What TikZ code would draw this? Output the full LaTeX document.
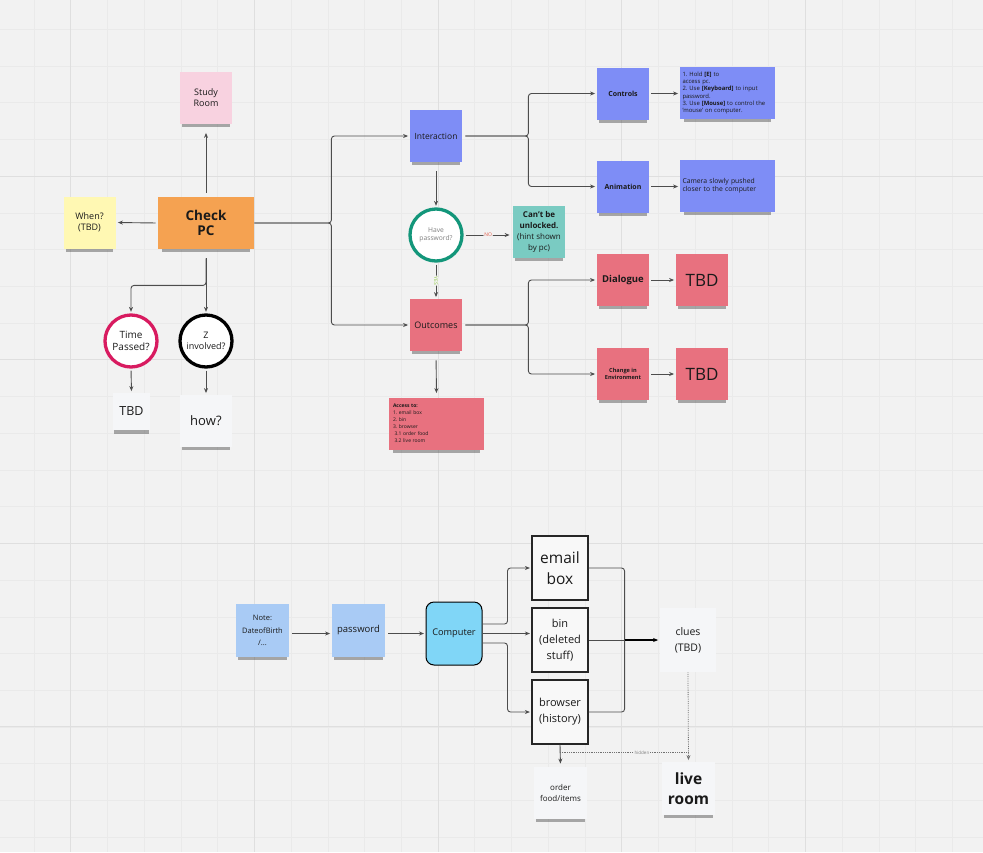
\documentclass[tikz,border=0pt]{standalone}
\usepackage{fontspec}
\setmainfont{Open Sans}
\usetikzlibrary{positioning,shadows,arrows.meta}
\definecolor{bg}{HTML}{F2F2F2}
\definecolor{gridminor}{HTML}{EAEAEA}
\definecolor{gridmajor}{HTML}{DFDFDF}
\definecolor{ink}{HTML}{1A1A1A}
\definecolor{line}{HTML}{4D4D4D}
\definecolor{orangenote}{HTML}{F5A251}
\definecolor{pinknote}{HTML}{F8D2E0}
\definecolor{yellownote}{HTML}{FFF8B3}
\definecolor{bluenote}{HTML}{7E8DF6}
\definecolor{tealnote}{HTML}{7ACBC2}
\definecolor{rednote}{HTML}{E8717F}
\definecolor{lightbluenote}{HTML}{A9CBF5}
\definecolor{whitenote}{HTML}{F5F6F8}
\definecolor{compcyan}{HTML}{80D6F7}
\definecolor{circmag}{HTML}{D81B60}
\definecolor{circgreen}{HTML}{13967A}
\definecolor{nored}{HTML}{E45D4B}
\definecolor{yesgreen}{HTML}{8DC63F}
\frenchspacing

\begin{document}
\begin{tikzpicture}[x=1pt, y=-1pt, thick,
  fs/.style 2 args = {font=\fontsize{#1}{#2}\selectfont},
  flat/.style = {fill=#1, minimum width=52pt, minimum height=52pt, inner sep=2pt, align=center, text=ink},
  sticky/.style = {flat=#1,
    drop shadow={shadow xshift=0pt, shadow yshift=-6pt, shadow scale=.92, opacity=.4, fill=black!80}},
  wide/.style = {minimum width=95pt},
  decision/.style = {circle, draw=#1, line width=3.3pt, fill=white, minimum size=52pt, inner sep=0pt, align=center, text=ink},
  frame/.style = {draw=black!85, line width=1.2pt, fill=white!50!bg, minimum width=56pt, minimum height=64pt, align=center, text=ink},
  link/.style = {draw=line, line width=.9pt, rounded corners=3pt, -{Stealth[length=5pt,width=4pt]}, shorten >=1.5pt},
  plain/.style = {draw=line, line width=.9pt, rounded corners=3pt},
  dots/.style = {draw=line!80, line width=.8pt, densely dotted},
  tag/.style = {fill=bg, inner sep=1pt, fs={5}{6}}]

\useasboundingbox (0,0) rectangle (983,852);
\fill[bg] (0,0) rectangle (983,852);
\foreach \k in {0,...,25} \draw[gridminor, line width=.5pt] ({33.97+36.73*\k},0) -- ++(0,852);
\foreach \k in {0,...,22} \draw[gridminor, line width=.5pt] (0,{29.1+36.73*\k}) -- ++(983,0);
\foreach \k in {0,...,4} \draw[gridmajor, line width=1pt] ({70.7+183.65*\k},0) -- ++(0,852);
\foreach \k in {0,...,3} \draw[gridmajor, line width=1pt] (0,{176+183.65*\k}) -- ++(983,0);

\node[sticky=orangenote, minimum width=96pt, fs={13.5}{14.5}] (1) at (206,223) {\textbf{Check}\\\textbf{PC}};
\node[sticky=pinknote, fs={9}{10.5}] (2) at (206,97.5) {Study\\Room};
\node[sticky=yellownote, fs={9}{10.5}] (3) at (89.5,222.5) {When?\\(TBD)};
\node[decision=circmag, fs={10}{12}] (4) at (131,341) {Time\\Passed?};
\node[decision=black, fs={9}{11.5}] (5) at (206,341) {Z\\involved?};
\node[sticky=whitenote, minimum width=37pt, minimum height=37pt, fs={12.5}{14}] (6) at (131.5,411.5) {TBD};
\node[sticky=whitenote, fs={13}{15}] (7) at (206,421) {how?};

\node[sticky=bluenote, fs={8.5}{10}] (8) at (436,136) {Interaction};
\node[decision=circgreen, fs={6.7}{8.5}, text=gray] (9) at (436,235) {Have\\password?};
\node[sticky=tealnote, fs={8}{11}] (10) at (539,232) {\textbf{Can't be}\\\textbf{unlocked.}\\(hint shown\\by pc)};
\node[sticky=rednote, fs={9}{10}] (11) at (436,325) {Outcomes};
\node[sticky=rednote, wide, text width=87pt, align=left, fs={5}{7}] (12) at (436.5,423.5) {\textbf{Access to:}\\1. email box\\2. bin\\3. browser\\\hspace{1.5pt}3.1 order food\\\hspace{1.5pt}3.2 live room};

\node[sticky=bluenote, fs={7}{8}] (13) at (623,93.5) {\textbf{Controls}};
\node[sticky=bluenote, wide, text width=90pt, align=left, fs={5.9}{7.2}] (14) at (727.5,93) {1. Hold \textbf{[E]} to\\access pc.\\2. Use \textbf{[Keyboard]} to input\\password.\\3. Use \textbf{[Mouse]} to control the\\'mouse' on computer.};
\node[sticky=bluenote, fs={7}{8}] (15) at (623,186.5) {\textbf{Animation}};
\node[sticky=bluenote, wide, text width=90pt, align=left, fs={6.8}{8}] (16) at (727.5,186) {Camera slowly pushed\\closer to the computer};
\node[sticky=rednote, fs={9.5}{11}] (17) at (623,280) {\textbf{Dialogue}};
\node[sticky=rednote, fs={17}{20}] (18) at (702,280) {TBD};
\node[sticky=rednote, fs={5.6}{7.7}] (19) at (623,374) {\textbf{Change in}\\\textbf{Environment}};
\node[sticky=rednote, fs={17}{20}] (20) at (702,374) {TBD};

\node[sticky=lightbluenote, minimum width=53pt, minimum height=53pt, fs={7.5}{12.5}] (21) at (262.5,630.5) {Note:\\DateofBirth\\/...};
\node[sticky=lightbluenote, minimum width=53pt, minimum height=53pt, fs={9.5}{11}] (22) at (358.5,630.5) {password};
\node[draw=black, line width=1pt, rounded corners=8pt, fill=compcyan, minimum width=56pt, minimum height=63pt, text=ink, fs={9.2}{11}] (23) at (454,633.5) {Computer};
\node[frame, fs={15.5}{21}] (24) at (560,568) {email\\box};
\node[frame, fs={11}{16}] (25) at (560,640) {bin\\(deleted\\stuff)};
\node[frame, fs={11}{16}] (26) at (560,712) {browser\\(history)};
\node[flat=whitenote, minimum width=56pt, minimum height=64pt, fs={10.5}{16}] (27) at (688,640) {clues\\(TBD)};
\node[sticky=whitenote, minimum width=53pt, fs={8}{11}] (28) at (560.5,793) {order\\food/items};
\node[sticky=whitenote, minimum width=53pt, minimum height=53pt, fs={15.5}{20}] (29) at (688.5,788.5) {\textbf{live}\\\textbf{room}};

\draw[link, shorten <=4pt, shorten >=9pt] (1.north) -- (2.south);
\draw[link, shorten <=2pt, shorten >=2pt] (1.west) -- (3.east);
\draw[link, shorten <=9pt] (1.south) -- ++(0,36) -| (4.north);
\draw[link, shorten <=9pt] (1.south) -- (5.north);
\draw[link, shorten <=2pt] (4.south) -- (6.north);
\draw[link, shorten <=2pt] (5.south) -- (7.north);
\draw[link] (1.east) -- ++(77,0) |- (8.west);
\draw[link] (1.east) -- ++(77,0) |- (11.west);
\draw[link, shorten <=9pt] (8.south) -- (9.north);
\draw[link, shorten <=2pt, shorten >=3pt] (9.east) -- node[tag, text=nored] {NO} (9.east -| 10.west);
\draw[link, shorten <=2pt] (9.south) -- node[tag, text=yesgreen, rotate=-90] {YES} (11.north);
\draw[link, shorten <=9pt, shorten >=4pt] (11.south) -- (12.north);
\draw[link, shorten <=3pt] (8.east) -- ++(66,0) |- (13.west);
\draw[link, shorten <=3pt] (8.east) -- ++(66,0) |- (15.west);
\draw[link, shorten <=2pt] (13.east) -- (13.east -| 14.west);
\draw[link, shorten <=2pt] (15.east) -- (15.east -| 16.west);
\draw[link, shorten <=3pt] (11.east) -- ++(66,0) |- (17.west);
\draw[link, shorten <=3pt] (11.east) -- ++(66,0) |- (19.west);
\draw[link, shorten <=2pt] (17) -- (18);
\draw[link, shorten <=2pt] (19) -- (20);

\draw[link, shorten <=3pt] (21.east |- 23) -- (22.west |- 23);
\draw[link, shorten <=3pt] (22.east |- 23) -- (23.west);
\draw[link] ([yshift=9.5pt]23.east) -- ++(25,0) |- (24.west);
\draw[link] (23.east) -- (23.east -| 25.west);
\draw[link] ([yshift=-9.5pt]23.east) -- ++(25,0) |- (26.west);
\draw[plain] (24.east) -- ++(36,0) |- (26.east);
\draw[plain] (25.east) -- ++(36,0) coordinate (m);
\draw[link, draw=black, line width=1.3pt] (m) -- (27.west);
\draw[link, shorten >=3pt] (26.south) -- (28.north);
\draw[link, dots] (27.south) -- (29.north);
\path (26.south) ++(0,8) coordinate (h);
\draw[dots] (h) -- node[tag, text=gray, pos=.64, fs={4.5}{5}] {hidden} (h -| 27.south);
\end{tikzpicture}
\end{document}
